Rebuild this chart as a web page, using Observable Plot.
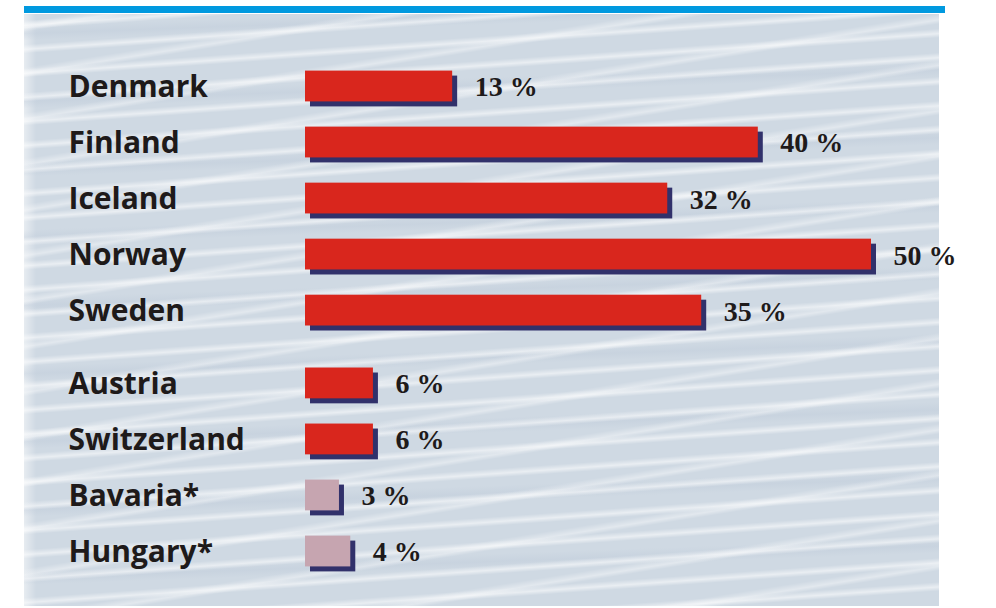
<!DOCTYPE html>
<html>
<head>
<meta charset="utf-8">
<script src="https://cdn.jsdelivr.net/npm/d3@7"></script>
<script src="https://cdn.jsdelivr.net/npm/@observablehq/plot@0.6"></script>
<style>
  html, body { margin: 0; padding: 0; background: #fff; overflow: hidden; }
  #wrap { position: relative; width: 996px; height: 608px; }
  #rule { position: absolute; left: 24px; top: 6px; width: 921px; height: 7px; background: #0099df; }
  #panel {
    position: absolute; left: 24px; top: 14px; width: 915px; height: 592px;
    background-color: #cfd9e3;
    background-image:
      repeating-linear-gradient(-4deg, rgba(255,255,255,0) 0px, rgba(255,255,255,0) 15px, rgba(255,255,255,0.55) 19px, rgba(255,255,255,0) 24px),
      repeating-linear-gradient(-9deg, rgba(255,255,255,0) 0px, rgba(255,255,255,0) 35px, rgba(255,255,255,0.4) 39px, rgba(255,255,255,0) 45px),
      repeating-linear-gradient(-2deg, rgba(185,198,214,0) 0px, rgba(185,198,214,0) 53px, rgba(185,198,214,0.3) 60px, rgba(185,198,214,0) 68px),
      linear-gradient(90deg, rgba(255,255,255,0.5) 0px, rgba(255,255,255,0) 12px);
  }
  #chart { position: absolute; left: 0; top: 0; }
</style>
</head>
<body>
<div id="wrap">
  <div id="rule"></div>
  <div id="panel"></div>
  <div id="chart"></div>
</div>
<script>
const countries = ["Denmark", "Finland", "Iceland", "Norway", "Sweden", "Austria", "Switzerland", "Bavaria*", "Hungary*"];
const shares = [13, 40, 32, 50, 35, 6, 6, 3, 4];
const groups = ["Nordic", "Nordic", "Nordic", "Nordic", "Nordic", "Other", "Other", "Estimate", "Estimate"];

const groupGap = {Nordic: 0, Other: 0.3, Estimate: 0.3};
const fillFor = {Nordic: "#d9261d", Other: "#d9261d", Estimate: "#c6a5b0"};

const data = countries.map((c, i) => ({
  country: c,
  share: shares[i],
  group: groups[i],
  pos: i + groupGap[groups[i]]
}));

const half = 0.275;

const plot = Plot.plot({
  width: 996,
  height: 608,
  marginLeft: 305,
  marginRight: 125,
  marginTop: 86,
  marginBottom: 57,
  style: {background: "transparent", overflow: "visible"},
  x: {domain: [0, 50], axis: null},
  y: {domain: [0, 8.3], reverse: true, axis: null},
  marks: [
    Plot.rect(data, {x1: 0, x2: "share", y1: d => d.pos - half, y2: d => d.pos + half, fill: "#31316b", dx: 5, dy: 5}),
    Plot.rect(data, {x1: 0, x2: "share", y1: d => d.pos - half, y2: d => d.pos + half, fill: d => fillFor[d.group]}),
    Plot.text(data, {x: "share", y: "pos", text: d => d.share + " %", dx: 22, textAnchor: "start",
      fontFamily: "Liberation Serif", fontWeight: "bold", fontSize: 28, fill: "#1e1a1a", lineAnchor: "middle", dy: 1}),
    Plot.text(data, {x: 0, y: "pos", text: "country", dx: -237, textAnchor: "start",
      fontFamily: "Open Sans", fontWeight: "bold", fontSize: 30, fill: "#1e1a1a", lineAnchor: "middle", dy: 1})
  ]
});
document.getElementById("chart").appendChild(plot);
</script>
</body>
</html>
